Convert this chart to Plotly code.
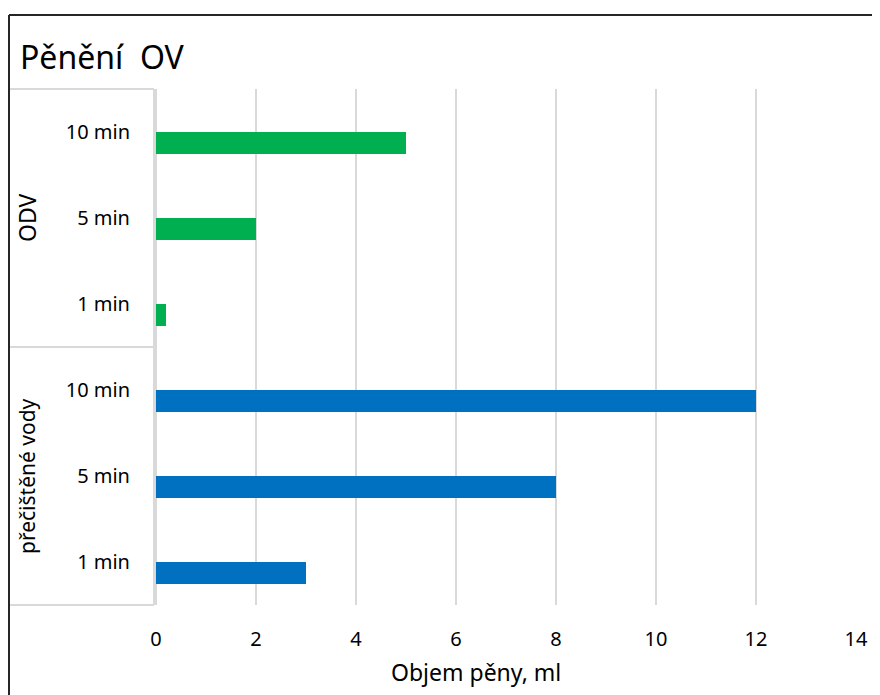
import plotly.graph_objects as go

groups = ["přečištěné vody", "ODV"]
times = ["1 min", "5 min", "10 min"]
odv_values = [0.2, 2, 5]
pure_values = [3, 8, 12]
x_ticks = [0, 2, 4, 6, 8, 10, 12, 14]

cats_pure = [f"{groups[0]} {t}" for t in times]
cats_odv = [f"{groups[1]} {t}" for t in times]
all_cats = cats_pure + cats_odv
tick_text = times + times

FONT = "Noto Sans"
OFF = 8  # browser body margin
W, H = 880 - OFF, 695 - OFF
L, T = 156 - OFF, 89 - OFF
R = W - (856 - OFF)
B = H - (605 - OFF)
pw, ph = W - L - R, H - T - B

def px_x(p):
    return (p - OFF - L) / pw

def px_y(p):
    return (H - B - (p - OFF)) / ph

fig = go.Figure()
fig.add_trace(go.Bar(y=cats_pure, x=pure_values, orientation="h",
                     marker=dict(color="#0070C0", line=dict(width=0)),
                     width=0.256, offset=-0.256, showlegend=False))
fig.add_trace(go.Bar(y=cats_odv, x=odv_values, orientation="h",
                     marker=dict(color="#00B050", line=dict(width=0)),
                     width=0.256, offset=-0.256, showlegend=False))

grid = "#D9D9D9"
shapes = []
shapes.append(dict(type="line", xref="paper", yref="paper", x0=px_x(9), x1=px_x(900),
                   y0=px_y(15), y1=px_y(15), line=dict(color="#262626", width=2)))
shapes.append(dict(type="line", xref="paper", yref="paper", x0=px_x(9), x1=px_x(9),
                   y0=px_y(15), y1=px_y(720), line=dict(color="#262626", width=2)))
for yy in [89, 347, 605]:
    shapes.append(dict(type="line", xref="paper", yref="paper", x0=px_x(10), x1=px_x(154),
                       y0=px_y(yy), y1=px_y(yy), line=dict(color=grid, width=2)))
shapes.append(dict(type="line", xref="paper", yref="paper", x0=px_x(154), x1=px_x(154),
                   y0=px_y(89), y1=px_y(605), line=dict(color=grid, width=2)))

annotations = [
    dict(text=groups[1], xref="paper", yref="y", x=px_x(27), y=cats_odv[1], textangle=-90,
         showarrow=False, font=dict(family=FONT, size=23, color="#000000"),
         xanchor="center", yanchor="middle"),
    dict(text=groups[0], xref="paper", yref="y", x=px_x(27), y=cats_pure[1], textangle=-90,
         showarrow=False, font=dict(family=FONT, size=21, color="#000000"),
         xanchor="center", yanchor="middle"),
    dict(text="Objem pěny, ml", xref="paper", yref="paper", x=px_x(476), y=px_y(672),
         showarrow=False, font=dict(family=FONT, size=23, color="#000000"),
         xanchor="center", yanchor="middle"),
]

fig.update_layout(
    width=W, height=H,
    margin=dict(l=L, r=R, t=T, b=B),
    paper_bgcolor="white", plot_bgcolor="white",
    title=dict(text="Pěnění\u00a0\u00a0OV", xref="container", yref="container",
               x=(20 - OFF) / W, y=1 - (58 - OFF) / H, xanchor="left", yanchor="middle",
               font=dict(family=FONT, size=32, color="#000000")),
    xaxis=dict(range=[0, 14], tickvals=x_ticks, showgrid=True, gridcolor=grid, gridwidth=2,
               zeroline=True, zerolinecolor=grid, zerolinewidth=2, showline=False,
               ticks="", ticklabelstandoff=20,
               tickfont=dict(family=FONT, size=20, color="#000000")),
    yaxis=dict(type="category", categoryorder="array", categoryarray=all_cats,
               tickmode="array", tickvals=all_cats, ticktext=tick_text,
               showgrid=False, showline=False, ticks="", ticklabelstandoff=25,
               tickfont=dict(family=FONT, size=20, color="#000000"), range=[-0.5, 5.5]),
    shapes=shapes, annotations=annotations,
    bargap=0,
)

fig.write_html("out.html")
